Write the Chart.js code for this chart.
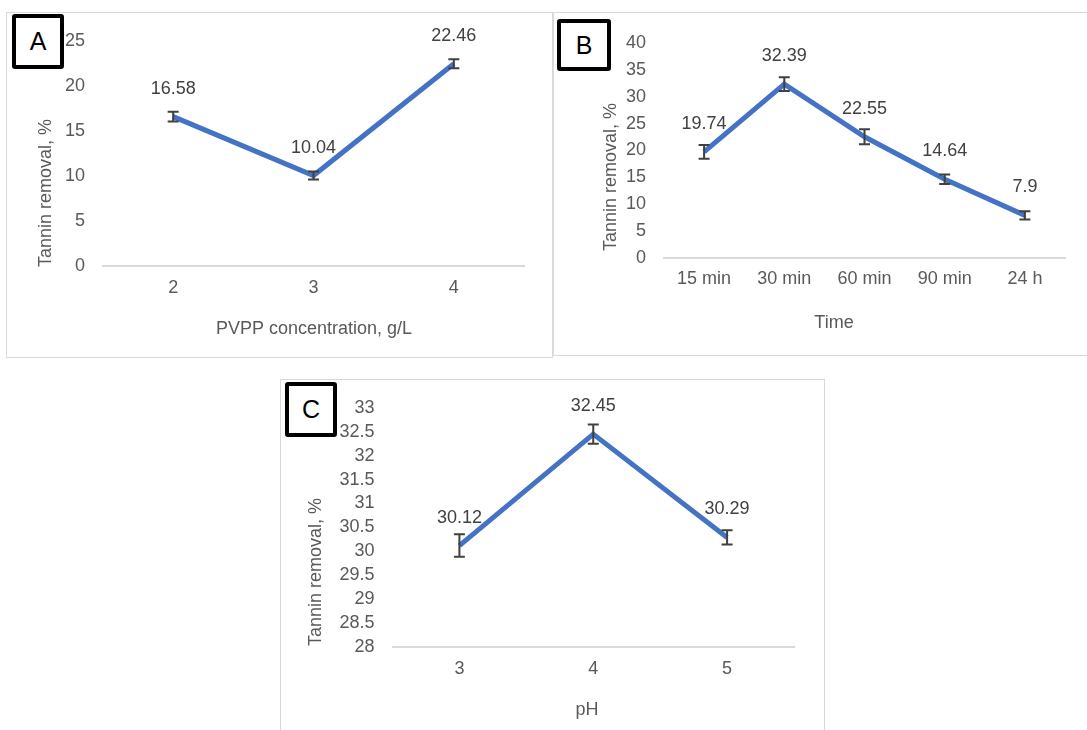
<!DOCTYPE html>
<html>
<head>
<meta charset="utf-8">
<title>Tannin removal with PVPP</title>
<script src="https://cdn.jsdelivr.net/npm/chart.js@4/dist/chart.umd.min.js"></script>
<style>
  html, body { margin: 0; padding: 0; background: #fff; }
  body { width: 1087px; height: 730px; position: relative; overflow: hidden; }
  .frame { position: absolute; box-sizing: border-box; border: 1px solid #d9d9d9; }
  canvas { position: absolute; }
  .tag {
    position: absolute; box-sizing: border-box; border: 4px solid #000; border-radius: 3px;
    background: #fff; font: 25px "Liberation Sans", Arial, sans-serif; color: #000;
    display: flex; align-items: center; justify-content: center; z-index: 2;
  }
</style>
</head>
<body>
<div class="frame" style="left:6px;top:12px;width:547px;height:346px"></div>
<div class="frame" style="left:553px;top:12px;width:540px;height:344px"></div>
<div class="frame" style="left:280px;top:379px;width:545px;height:400px"></div>

<canvas id="chartA" width="547" height="346" style="left:6px;top:12px"></canvas>
<canvas id="chartB" width="534" height="344" style="left:553px;top:12px"></canvas>
<canvas id="chartC" width="544" height="351" style="left:280px;top:379px"></canvas>

<div class="tag" style="left:12px;top:14px;width:52px;height:55px">A</div>
<div class="tag" style="left:557px;top:19px;width:54px;height:52px">B</div>
<div class="tag" style="left:285px;top:382px;width:52px;height:55px">C</div>

<script>
// Panel A: PVPP dose
const concentrations = ['2', '3', '4'];
const removalByDose = [16.58, 10.04, 22.46];
const errorByDose = [0.55, 0.45, 0.5];

// Panel B: contact time
const times = ['15 min', '30 min', '60 min', '90 min', '24 h'];
const removalByTime = [19.74, 32.39, 22.55, 14.64, 7.9];
const errorByTime = [1.3, 1.27, 1.4, 0.87, 0.78];

// Panel C: pH
const phValues = ['3', '4', '5'];
const removalByPh = [30.12, 32.45, 30.29];
const errorByPh = [0.235, 0.2, 0.15];

const FONT = '"Liberation Sans", Arial, sans-serif';
const TEXT_SIZE = 18;
const LINE_BLUE = '#4472c4';
const AXIS_GREY = '#595959';
const LABEL_GREY = '#404040';

// Error bars with caps, drawn on top of the line
const errorBars = {
  id: 'errorBars',
  afterDatasetsDraw(chart, args, opts) {
    const { ctx, scales: { x, y } } = chart;
    const ds = chart.data.datasets[0];
    ctx.save();
    ctx.strokeStyle = opts.color;
    ctx.lineWidth = opts.width;
    ds.data.forEach((v, i) => {
      const e = ds.errors[i];
      const px = x.getPixelForValue(i);
      const yTop = y.getPixelForValue(v + e);
      const yBot = y.getPixelForValue(v - e);
      const h = opts.cap / 2;
      ctx.beginPath();
      ctx.moveTo(px, yTop); ctx.lineTo(px, yBot);
      ctx.moveTo(px - h, yTop); ctx.lineTo(px + h, yTop);
      ctx.moveTo(px - h, yBot); ctx.lineTo(px + h, yBot);
      ctx.stroke();
    });
    ctx.restore();
  }
};

// Value labels above each point
const valueLabels = {
  id: 'valueLabels',
  afterDatasetsDraw(chart, args, opts) {
    const { ctx, scales: { x, y } } = chart;
    const ds = chart.data.datasets[0];
    ctx.save();
    ctx.font = opts.size + 'px ' + FONT;
    ctx.fillStyle = LABEL_GREY;
    ctx.textAlign = 'center';
    ctx.textBaseline = 'middle';
    ds.data.forEach((v, i) => {
      ctx.fillText(String(v), x.getPixelForValue(i), y.getPixelForValue(v) - opts.offset);
    });
    ctx.restore();
  }
};

// Axis titles placed the way the panels lay them out
const axisTitles = {
  id: 'axisTitles',
  afterDraw(chart, args, opts) {
    const { ctx } = chart;
    ctx.save();
    ctx.font = opts.size + 'px ' + FONT;
    ctx.fillStyle = AXIS_GREY;
    ctx.textAlign = 'center';
    ctx.textBaseline = 'middle';
    ctx.fillText(opts.x.text, opts.x.cx, opts.x.cy);
    ctx.translate(opts.y.cx, opts.y.cy);
    ctx.rotate(-Math.PI / 2);
    ctx.fillText(opts.y.text, 0, 0);
    ctx.restore();
  }
};

// Numbers on the value axis without trailing zeros (33, 32.5, 32 ...)
const plainNumber = v => String(Math.round(v * 10) / 10);

function makePanel(id, labels, values, errors, yMin, yMax, step, area, titles) {
  const canvas = document.getElementById(id);
  const W = canvas.width, H = canvas.height;
  const yWidth = 60, xHeight = 50;
  return new Chart(canvas, {
    type: 'line',
    data: {
      labels: labels,
      datasets: [{
        data: values,
        errors: errors,
        borderColor: LINE_BLUE,
        borderWidth: 5,
        pointRadius: 0,
        pointHoverRadius: 0,
        tension: 0,
        fill: false
      }]
    },
    options: {
      responsive: false,
      animation: false,
      events: [],
      layout: {
        padding: {
          left: area.left - yWidth,
          right: W - area.right,
          top: area.top,
          bottom: H - area.bottom - xHeight
        }
      },
      scales: {
        x: {
          offset: true,
          grid: { display: false, drawTicks: false },
          border: { display: true, color: '#d9d9d9', width: 2 },
          ticks: { color: AXIS_GREY, padding: 11, font: { family: FONT, size: TEXT_SIZE }, maxRotation: 0 },
          afterFit(scale) { scale.height = xHeight; }
        },
        y: {
          min: yMin,
          max: yMax,
          grid: { display: false, drawTicks: false },
          border: { display: false },
          ticks: {
            stepSize: step, autoSkip: false, color: AXIS_GREY, padding: 18,
            font: { family: FONT, size: TEXT_SIZE },
            callback: plainNumber
          },
          afterFit(scale) { scale.width = yWidth; }
        }
      },
      plugins: {
        legend: { display: false },
        tooltip: { enabled: false },
        errorBars: { color: '#404040', width: 2, cap: 11 },
        valueLabels: { size: TEXT_SIZE, offset: 28 },
        axisTitles: Object.assign({ size: TEXT_SIZE }, titles)
      }
    },
    plugins: [errorBars, valueLabels, axisTitles]
  });
}

makePanel('chartA', concentrations, removalByDose, errorByDose, 0, 25, 5,
  { left: 97, right: 518, top: 27.5, bottom: 254 },
  { x: { text: 'PVPP concentration, g/L', cx: 308, cy: 317 },
    y: { text: 'Tannin removal, %', cx: 40, cy: 181 } });

makePanel('chartB', times, removalByTime, errorByTime, 0, 40, 5,
  { left: 111, right: 512, top: 31.3, bottom: 245.7 },
  { x: { text: 'Time', cx: 281, cy: 311 },
    y: { text: 'Tannin removal, %', cx: 58, cy: 165 } });

makePanel('chartC', phValues, removalByPh, errorByPh, 28, 33, 0.5,
  { left: 112.5, right: 514, top: 27.7, bottom: 268 },
  { x: { text: 'pH', cx: 307, cy: 331 },
    y: { text: 'Tannin removal, %', cx: 36, cy: 193 } });
</script>
</body>
</html>
